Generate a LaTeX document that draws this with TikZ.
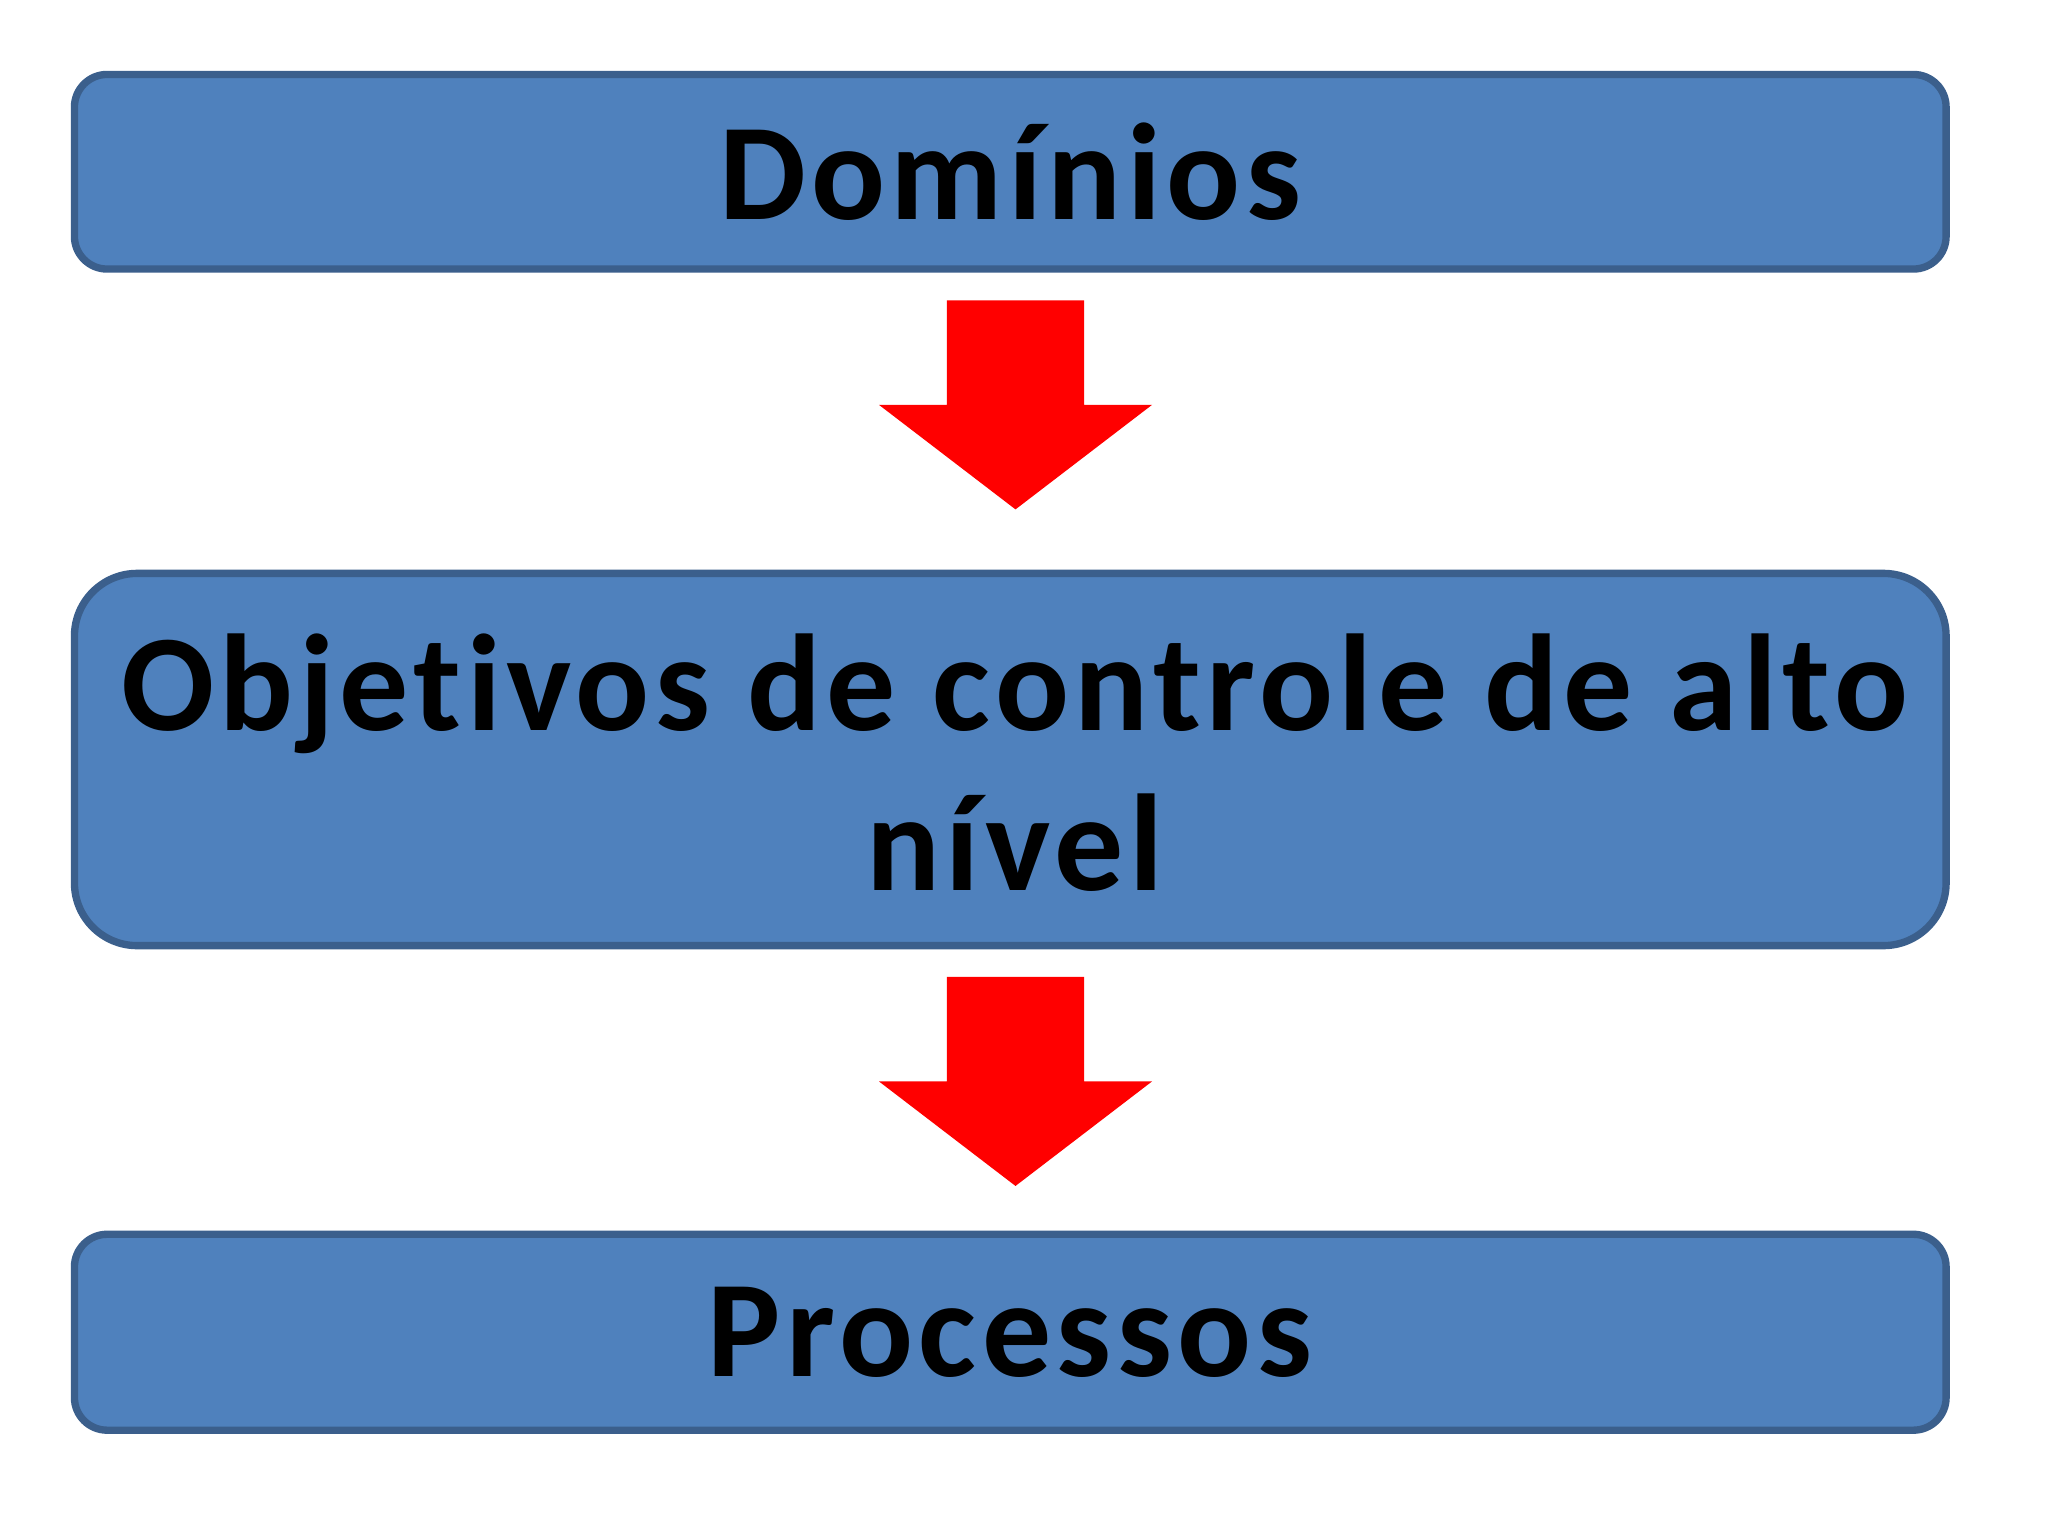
\documentclass[tikz,border=0pt]{standalone}
\usepackage{fontspec}
\setmainfont{Carlito}[Ligatures={NoCommon},LetterSpace=4]
\begin{document}
\begin{tikzpicture}[x=0.01cm,y=-0.01cm,
  box/.style={draw=boxline,fill=boxblue,line width=1.6pt},
  arr/.style={fill=red,draw=none},
  lbl/.style={font=\fontsize{30}{35}\selectfont\bfseries,align=center}]
\definecolor{boxblue}{HTML}{4F81BD}
\definecolor{boxline}{HTML}{3B5F8C}
\useasboundingbox (0,0) rectangle (1568,1176);
\fill[white] (0,0) rectangle (1568,1176);
\draw[box,rounded corners=0.25cm] (57,57) rectangle (1490,206);
\node[lbl] (a) at (773.5,131.5) {Domínios};
\draw[box,rounded corners=0.48cm] (57,439) rectangle (1490,724);
\node[lbl] (b) at (777,584) {Objetivos de controle de alto\\nível};
\draw[box,rounded corners=0.25cm] (57,945) rectangle (1490,1095);
\node[lbl] (c) at (773.5,1020) {Processos};
\fill[arr] (725,230) -- (830,230) -- (830,310) -- (882,310) -- (777.5,390) -- (673,310) -- (725,310) -- cycle;
\fill[arr] (725,748) -- (830,748) -- (830,828) -- (882,828) -- (777.5,908) -- (673,828) -- (725,828) -- cycle;
\end{tikzpicture}
\end{document}
